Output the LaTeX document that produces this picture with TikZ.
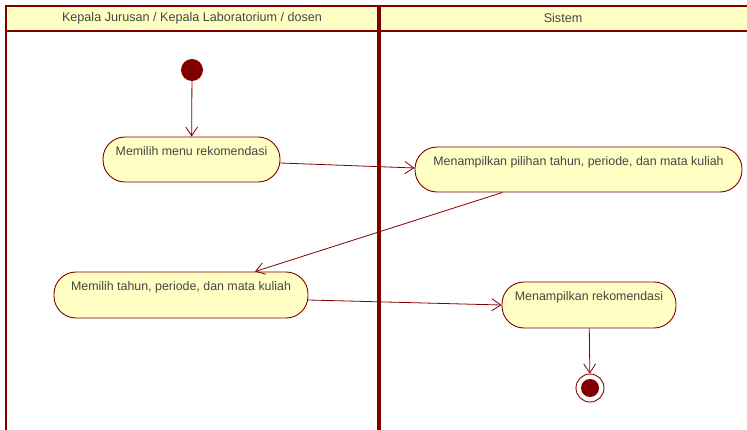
\documentclass[tikz,border=0pt]{standalone}
\usepackage{fontspec}
\setmainfont{Liberation Sans}
\usetikzlibrary{arrows.meta, positioning}

\definecolor{umlred}{HTML}{800000}
\definecolor{umlfill}{HTML}{FFFFC4}
\definecolor{umltext}{HTML}{454545}

\begin{document}
\begin{tikzpicture}[x=1pt, y=-1pt,
    lane/.style={draw=umlred, line width=2pt},
    header/.style={text=umltext, font=\fontsize{12.6}{14}\selectfont},
    action/.style={draw=umlred, fill=umlfill, line width=0.9pt, rectangle,
        rounded corners=22pt, minimum height=45pt, inner ysep=7.5pt,
        text height=11pt, text depth=19pt, text=umltext,
        font=\fontsize{12.4}{14}\selectfont},
    flow/.style={draw=umlred, line width=0.8pt, -{Straight Barb[length=9pt,width=12pt]}}]
            \useasboundingbox (0,0) rectangle (747,430);

            % Swimlanes
            \fill[umlfill] (6,6) rectangle (747,31);
            \draw[lane] (6,430) -- (6,6) -- (747,6);
            \draw[lane] (6,31) -- (747,31);
            \draw[umlred, line width=3.5pt] (379,6) -- (379,430);
            \node[header] (hdr1) at (192,18) {Kepala Jurusan / Kepala Laboratorium / dosen};
            \node[header] (hdr2) at (563,18) {Sistem};

            % Define nodes
            \node[circle, fill=umlred, minimum size=22pt, inner sep=0pt] (start) at (192,70) {};
            \node[action, minimum width=177pt] (a1) at (191.5,159.5) {Memilih menu rekomendasi};
            \node[action, minimum width=327pt] (a2) at (578.5,169.5) {Menampilkan pilihan tahun, periode, dan mata kuliah};
            \node[action, minimum width=254pt, minimum height=46pt] (a3) at (181,295) {Memilih tahun, periode, dan mata kuliah};
            \node[action, minimum width=174pt, minimum height=46pt] (a4) at (589,305) {Menampilkan rekomendasi};
            \node[circle, draw=umlred, fill=white, line width=0.9pt, minimum size=28pt, inner sep=0pt] (stop) at (590,388) {};
            \node[circle, fill=umlred, minimum size=18pt, inner sep=0pt] at (stop) {};

            % Draw edges
            \draw[flow] (start) -- (a1);
            \draw[flow] ([yshift=-3.5pt]a1.east) -- ([yshift=1.5pt]a2.west);
            \draw[flow] ([xshift=-76pt]a2.south) -- ([xshift=74pt]a3.north);
            \draw[flow] ([yshift=-5pt]a3.east) -- (a4.west);
            \draw[flow] (a4) -- (stop);

\end{tikzpicture}
\end{document}
